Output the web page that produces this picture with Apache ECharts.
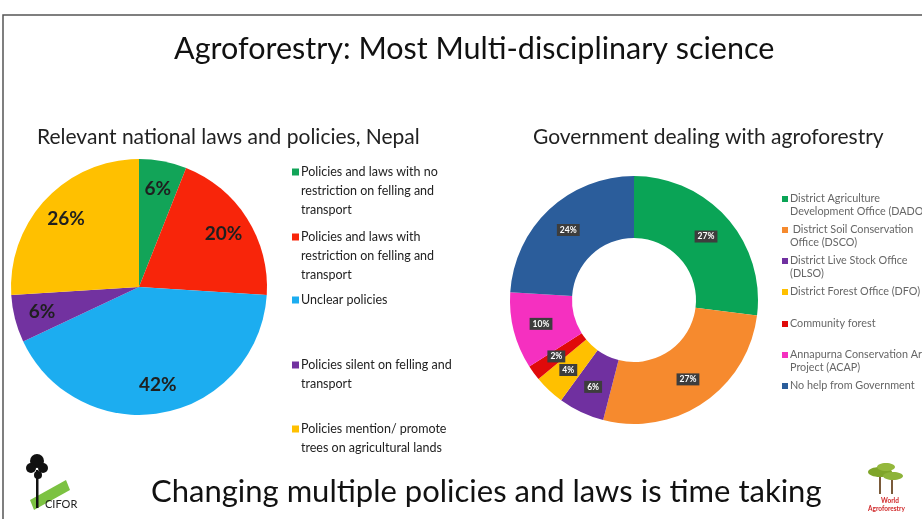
<!DOCTYPE html>
<html><head><meta charset="utf-8">
<script src="https://cdn.jsdelivr.net/npm/echarts@6/dist/echarts.min.js"></script>
<style>html,body{margin:0;padding:0;background:#fff}#c{width:922px;height:519px}</style>
</head><body><div id="c"></div>
<script>
// ---- data ----
const lawNames = [
  'Policies and laws with no\nrestriction on felling and\ntransport',
  'Policies and laws with\nrestriction on felling and\ntransport',
  'Unclear policies',
  'Policies silent on felling and\ntransport',
  'Policies mention/ promote\ntrees on agricultural lands'
];
const lawValues = [6, 20, 42, 6, 26];
const govNames = [
  'District Agriculture\nDevelopment Office (DADO)',
  ' District Soil Conservation\nOffice (DSCO)',
  'District Live Stock Office\n(DLSO)',
  'District Forest Office (DFO)',
  'Community forest',
  'Annapurna Conservation Area\nProject (ACAP)',
  'No help from Government'
];
const govValues = [27, 27, 6, 4, 2, 10, 24];

// ---- styles / layout ----
const lawColors = ['#12a458', '#f8250a', '#1cadf0', '#7232a0', '#ffc000'];
const govColors = ['#0aa456', '#f68a2e', '#7030a0', '#ffc000', '#e00a0a', '#f530c0', '#2b5d9b'];
const lawLegendY = [167, 232, 295, 360, 424];
const govLegendY = [194, 225, 256, 287, 319, 350, 381];
const FONT = 'Lato, "Open Sans", sans-serif';

function lines(s){ return s.split('\n').length; }
function padded(s){ const n = lines(s); return '\n'.repeat(n-1) + s; }

const legends = [];
lawNames.forEach((n,i)=>{
  const lh = 19, L = 2*lines(n)-1;
  legends.push({data:[n], left:287, top: lawLegendY[i] - L*lh/2, itemWidth:7, itemHeight:7, itemGap:0,
    icon:'rect', selectedMode:false, formatter: padded,
    textStyle:{fontFamily:FONT, fontSize:12.5, color:'#222', lineHeight:lh, padding:[0,0,0,-3]}});
});
govNames.forEach((n,i)=>{
  const lh = 13, L = 2*lines(n)-1;
  legends.push({data:[n], left:777, top: govLegendY[i] - L*lh/2, itemWidth:6, itemHeight:6, itemGap:0,
    icon:'rect', selectedMode:false, formatter: padded,
    textStyle:{fontFamily:FONT, fontSize:10.8, color:'#666', lineHeight:lh, padding:[0,0,0,-3]}});
});

const chart = echarts.init(document.getElementById('c'), null, {renderer:'canvas'});
chart.setOption({
  backgroundColor:'#fff',
  animation:false,
  title:[
    {text:'Agroforestry: Most Multi-disciplinary science', left:169, top:29,
      textStyle:{fontFamily:FONT, fontSize:30.5, fontWeight:'normal', color:'#111'}},
    {text:'Relevant national laws and policies, Nepal', left:32, top:122,
      textStyle:{fontFamily:FONT, fontSize:21, fontWeight:'normal', color:'#222'}},
    {text:'Government dealing with agroforestry', left:528, top:122,
      textStyle:{fontFamily:FONT, fontSize:21, fontWeight:'normal', color:'#222'}},
    {text:'Changing multiple policies and laws is time taking', left:146, top:471,
      textStyle:{fontFamily:FONT, fontSize:31, fontWeight:'normal', color:'#111'}}
  ],
  legend: legends,
  graphic:[
    {type:'rect', shape:{x:3, y:15, width:1000, height:600}, style:{fill:'none', stroke:'#555', lineWidth:1.5}, z:100},
    // CIFOR logo
    {type:'polygon', shape:{points:[[30,500],[66,480],[70,490],[34,510]]}, style:{fill:'#7cc242'}},
    {type:'rect', shape:{x:36, y:470, width:2.5, height:38}, style:{fill:'#111'}},
    {type:'circle', shape:{cx:37, cy:461, r:7}, style:{fill:'#111'}},
    {type:'circle', shape:{cx:31, cy:468, r:5}, style:{fill:'#111'}},
    {type:'circle', shape:{cx:43, cy:468, r:5}, style:{fill:'#111'}},
    {type:'circle', shape:{cx:38, cy:475, r:4}, style:{fill:'#111'}},
    {type:'text', left:45, top:499, style:{text:'CIFOR', fontFamily:FONT, fontSize:11, fill:'#222'}},
    // World Agroforestry logo
    {type:'rect', shape:{x:879, y:476, width:2, height:18}, style:{fill:'#7a5a3a'}},
    {type:'rect', shape:{x:891, y:476, width:2, height:18}, style:{fill:'#7a5a3a'}},
    {type:'ellipse', shape:{cx:880, cy:472, rx:12, ry:5}, style:{fill:'#7fa52a'}},
    {type:'ellipse', shape:{cx:893, cy:476, rx:10, ry:4}, style:{fill:'#8db33a'}},
    {type:'ellipse', shape:{cx:886, cy:467, rx:9, ry:4}, style:{fill:'#94b83c'}},
    {type:'text', left:881, top:497, style:{text:'World', fontFamily:FONT, fontSize:6.5, fontWeight:'bold', fill:'#d0282a'}},
    {type:'text', left:868, top:505, style:{text:'Agroforestry', fontFamily:FONT, fontSize:6.5, fontWeight:'bold', fill:'#d0282a'}}
  ],
  series:[
    {type:'pie', name:'laws', center:[139,287], radius:[0,128], startAngle:90, clockwise:true,
      label:{show:false}, labelLine:{show:false},
      data: lawNames.map((n,i)=>({name:n, value:lawValues[i], itemStyle:{color:lawColors[i]}}))},
    {type:'pie', name:'lawLabels', center:[139,287], radius:[66,128], startAngle:90, clockwise:true,
      silent:true, legendHoverLink:false,
      itemStyle:{color:'rgba(0,0,0,0)'},
      label:{show:true, position:'inside', formatter:'{c}%', fontFamily:FONT, fontSize:19, fontWeight:'bold', color:'#1f1f1f'},
      labelLine:{show:false},
      data: lawNames.map((n,i)=>({name:'_'+i, value:lawValues[i]}))},
    {type:'pie', name:'gov', center:[634,300], radius:[62,124], startAngle:90, clockwise:true,
      label:{show:true, position:'inside', formatter:'{c}%', fontFamily:FONT, fontSize:8.5, fontWeight:'bold',
        color:'#fff', backgroundColor:'#3d3d3d', padding:[2,3,1,3]},
      labelLine:{show:false},
      data: govNames.map((n,i)=>({name:n, value:govValues[i], itemStyle:{color:govColors[i]}}))}
  ]
});
</script></body></html>
